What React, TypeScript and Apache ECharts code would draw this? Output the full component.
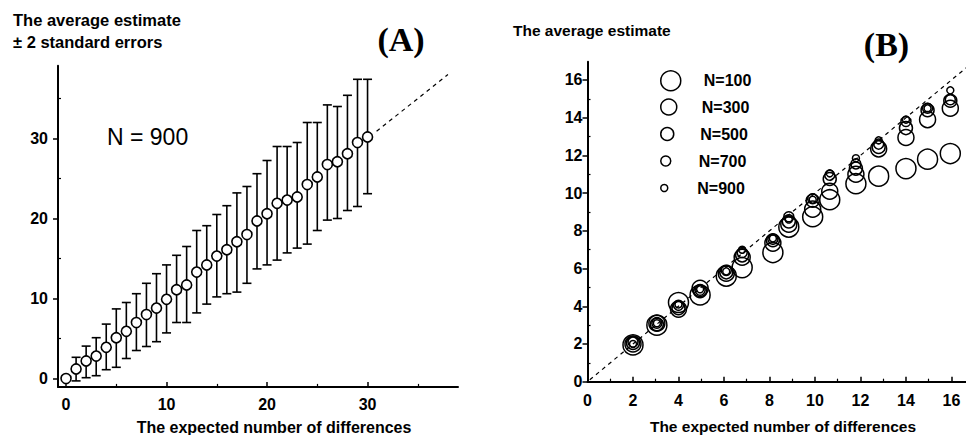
import React, { useEffect, useRef } from "react";
import * as echarts from "echarts";

// ---------- Panel A data (N = 900) ----------
const meanX_A = [0, 1, 2, 3, 4, 5, 6, 7, 8, 9, 10, 11, 12, 13, 14, 15, 16, 17, 18, 19, 20, 21, 22, 23, 24, 25, 26, 27, 28, 29, 30];
const meanY_A = [0, 1.2, 2.2, 2.8, 3.9, 5.1, 5.9, 7.0, 8.0, 8.8, 9.9, 11.1, 11.7, 13.3, 14.2, 15.3, 16.1, 17.1, 18.0, 19.7, 20.6, 21.9, 22.3, 22.7, 24.25, 25.2, 26.75, 27.1, 28.1, 29.5, 30.2];
const errX_A = [1, 2, 3, 4, 5, 6, 7, 8, 9, 10, 11, 12, 13, 14, 15, 16, 17, 18, 19, 20, 21, 22, 23, 24, 25, 26, 27, 28, 29, 30];
const errLow_A = [-0.3, 0.1, 0.35, 1.1, 1.4, 2.5, 3.5, 4.0, 4.6, 5.7, 7.0, 7.0, 8.2, 9.3, 10.2, 10.6, 10.8, 11.9, 13.7, 14.2, 14.8, 15.7, 16.3, 16.8, 18.5, 19.8, 20.0, 21.0, 21.5, 23.1];
const errHigh_A = [2.65, 4.05, 5.1, 6.8, 8.7, 9.5, 10.6, 11.9, 13.1, 14.2, 15.4, 16.5, 18.5, 19.1, 20.5, 21.6, 23.2, 24.0, 25.6, 27.25, 29.0, 29.0, 29.5, 32.0, 32.0, 34.2, 34.0, 35.4, 37.4, 37.4];
const refLine_A = [[30.9, 30.9], [38, 38]];
const ticksX_A = [0, 10, 20, 30];
const minorX_A = [5, 15, 25, 35];
const ticksY_A = [0, 10, 20, 30];
const minorY_A = [5, 15, 25, 35];

// ---------- Panel B data ----------
const seriesNames_B = ["N=100", "N=300", "N=500", "N=700", "N=900"];
const expected_B = [2.0, 3.05, 4.0, 4.95, 6.1, 6.8, 8.15, 8.85, 9.9, 10.65, 11.8, 12.8, 14.0, 14.95, 15.95];
const est100_B = [1.95, 3.0, 4.2, 4.6, 5.6, 6.05, 6.85, 8.2, 8.75, 9.65, 10.5, 10.9, 11.3, 11.8, 12.1];
const est300_B = [2.0, 3.1, 3.85, 4.95, 5.75, 6.6, 7.35, 8.35, 9.15, 10.1, 11.0, 12.35, 12.95, 13.9, 14.5];
const est500_B = [2.05, 3.05, 3.9, 4.8, 5.8, 6.7, 7.5, 8.5, 9.6, 10.75, 11.3, 12.45, 13.45, 14.4, 14.9];
const est700_B = [2.1, 3.1, 4.05, 4.85, 5.9, 6.85, 7.55, 8.75, 9.7, 10.95, 11.55, 12.6, 13.8, 14.5, 14.95];
const est900_B = [2.0, 3.1, 4.1, 4.9, 5.85, 7.0, 7.6, 8.6, 9.65, 11.05, 11.85, 12.8, 13.9, 14.5, 15.45];
const refLine_B = [[0.1, 0.1], [16.7, 16.7]];
const ticksX_B = [0, 2, 4, 6, 8, 10, 12, 14, 16];
const minorX_B = [1, 3, 5, 7, 9, 11, 13, 15];
const ticksY_B = [0, 2, 4, 6, 8, 10, 12, 14, 16];
const minorY_B = [1, 3, 5, 7, 9, 11, 13, 15];

const estimates_B = [est100_B, est300_B, est500_B, est700_B, est900_B];
const symbolSizes_B = [20, 16, 13, 10, 7];

const SANS = "'Liberation Sans', Arial, Helvetica, sans-serif";
const SERIF = "'Liberation Serif', 'Times New Roman', serif";

function axisPair(
  gridIndex: number,
  position: string,
  min: number,
  max: number,
  major: number[],
  minor: number[],
  majorInside: boolean,
  minorInside: boolean,
  labelMargin: number,
  fontSize: number
) {
  const main = {
    type: "value",
    gridIndex,
    position,
    min,
    max,
    axisLine: { show: true, onZero: false, lineStyle: { color: "#000", width: 2 } },
    axisTick: {
      show: true,
      inside: majorInside,
      length: 5,
      customValues: major,
      lineStyle: { color: "#000", width: 1.5 },
    },
    axisLabel: {
      show: true,
      customValues: major,
      margin: labelMargin,
      color: "#000",
      fontSize,
      fontWeight: "bold",
      fontFamily: SANS,
    },
    splitLine: { show: false },
  };
  const minorAxis = {
    type: "value",
    gridIndex,
    position,
    min,
    max,
    axisLine: { show: false, onZero: false },
    axisTick: {
      show: true,
      inside: minorInside,
      length: 3,
      customValues: minor,
      lineStyle: { color: "#000", width: 1.2 },
    },
    axisLabel: { show: false },
    splitLine: { show: false },
  };
  return [main, minorAxis];
}

function buildOption() {
  const xA = axisPair(0, "bottom", -0.8, 39, ticksX_A, minorX_A, true, true, 10, 16);
  const yA = axisPair(0, "left", -1.05, 39.1, ticksY_A, minorY_A, false, true, 10, 16);
  const xB = axisPair(1, "bottom", 0, 16.64, ticksX_B, minorX_B, true, true, 11, 16);
  const yB = axisPair(1, "left", 0, 16.97, ticksY_B, minorY_B, false, true, 5, 16);

  const errData = errX_A.map((x, i) => [x, errLow_A[i], errHigh_A[i]]);
  const meanData = meanX_A.map((x, i) => [x, meanY_A[i]]);

  const seriesB = seriesNames_B.map((name, k) => ({
    name,
    type: "scatter",
    xAxisIndex: 2,
    yAxisIndex: 2,
    symbol: "circle",
    symbolSize: symbolSizes_B[k],
    itemStyle: { color: "rgba(0,0,0,0)", borderColor: "#000", borderWidth: 1.5, opacity: 1 },
    data: expected_B.map((x, i) => [x, estimates_B[k][i]]),
    z: 3,
    silent: true,
  }));

  const legends = seriesNames_B.map((name, k) => ({
    data: [{ name, icon: "circle" }],
    left: 660,
    top: 70 + k * 27,
    padding: 0,
    itemWidth: 56,
    itemHeight: symbolSizes_B[k],
    selectedMode: false,
    itemStyle: { color: "rgba(0,0,0,0)", borderColor: "#000", borderWidth: 1.5 },
    textStyle: { color: "#000", fontSize: 16, fontWeight: "bold", fontFamily: SANS, lineHeight: 20 },
  }));

  const textStyle = (extra: any) => ({ fill: "#000", fontFamily: SANS, fontWeight: "bold", ...extra });

  return {
    animation: false,
    backgroundColor: "#fff",
    grid: [
      { left: 58, top: 65.7, width: 400, height: 321.2, containLabel: false },
      { left: 587.5, top: 61.7, width: 378.5, height: 320, containLabel: false },
    ],
    xAxis: [xA[0], xA[1], xB[0], xB[1]],
    yAxis: [yA[0], yA[1], yB[0], yB[1]],
    legend: legends,
    graphic: [
      { type: "text", x: 13, y: 20, style: textStyle({ text: "The average estimate", fontSize: 16.5, verticalAlign: "middle", align: "left" }) },
      { type: "text", x: 13, y: 42, style: textStyle({ text: "± 2 standard errors", fontSize: 16.5, verticalAlign: "middle", align: "left" }) },
      { type: "text", x: 401, y: 39, style: { text: "(A)", fill: "#000", fontFamily: SERIF, fontWeight: "bold", fontSize: 34, align: "center", verticalAlign: "middle" } },
      { type: "text", x: 107, y: 137, style: { text: "N = 900", fill: "#000", fontFamily: SANS, fontSize: 23, align: "left", verticalAlign: "middle" } },
      { type: "text", x: 274, y: 427, style: textStyle({ text: "The expected number of differences", fontSize: 16, verticalAlign: "middle", align: "center" }) },
      { type: "text", x: 513, y: 30, style: textStyle({ text: "The average estimate", fontSize: 15.5, verticalAlign: "middle", align: "left" }) },
      { type: "text", x: 886.5, y: 44, style: { text: "(B)", fill: "#000", fontFamily: SERIF, fontWeight: "bold", fontSize: 34, align: "center", verticalAlign: "middle" } },
      { type: "text", x: 783, y: 426, style: textStyle({ text: "The expected number of differences", fontSize: 15.5, verticalAlign: "middle", align: "center" }) },
    ],
    series: [
      {
        name: "errA",
        type: "custom",
        xAxisIndex: 0,
        yAxisIndex: 0,
        data: errData,
        encode: { x: 0, y: [1, 2] },
        z: 2,
        silent: true,
        renderItem: (params: any, api: any) => {
          const x = api.value(0);
          const pLo = api.coord([x, api.value(1)]);
          const pHi = api.coord([x, api.value(2)]);
          const hw = 4.5;
          const st = { stroke: "#000", lineWidth: 1.6 };
          return {
            type: "group",
            children: [
              { type: "line", shape: { x1: pHi[0], y1: pHi[1], x2: pLo[0], y2: pLo[1] }, style: st },
              { type: "line", shape: { x1: pHi[0] - hw, y1: pHi[1], x2: pHi[0] + hw, y2: pHi[1] }, style: st },
              { type: "line", shape: { x1: pLo[0] - hw, y1: pLo[1], x2: pLo[0] + hw, y2: pLo[1] }, style: st },
            ],
          };
        },
      },
      {
        name: "refA",
        type: "line",
        xAxisIndex: 0,
        yAxisIndex: 0,
        data: refLine_A,
        symbol: "none",
        lineStyle: { color: "#000", width: 1.2, type: [4, 4] },
        z: 1,
        silent: true,
      },
      {
        name: "meanA",
        type: "scatter",
        xAxisIndex: 0,
        yAxisIndex: 0,
        data: meanData,
        symbol: "circle",
        symbolSize: 10,
        itemStyle: { color: "#fff", borderColor: "#000", borderWidth: 1.6, opacity: 1 },
        z: 4,
        silent: true,
      },
      {
        name: "refB",
        type: "line",
        xAxisIndex: 2,
        yAxisIndex: 2,
        data: refLine_B,
        symbol: "none",
        lineStyle: { color: "#000", width: 1.2, type: [4, 4] },
        z: 1,
        silent: true,
      },
      ...seriesB,
    ],
  };
}

export default function App() {
  const ref = useRef<HTMLDivElement>(null);
  useEffect(() => {
    if (!ref.current) return;
    const chart = echarts.init(ref.current, null, { renderer: "svg" });
    chart.setOption(buildOption() as any);
    return () => chart.dispose();
  }, []);
  return (
    <div
      ref={ref}
      style={{ position: "absolute", left: 0, top: 0, width: 966, height: 435, background: "#fff" }}
    />
  );
}
